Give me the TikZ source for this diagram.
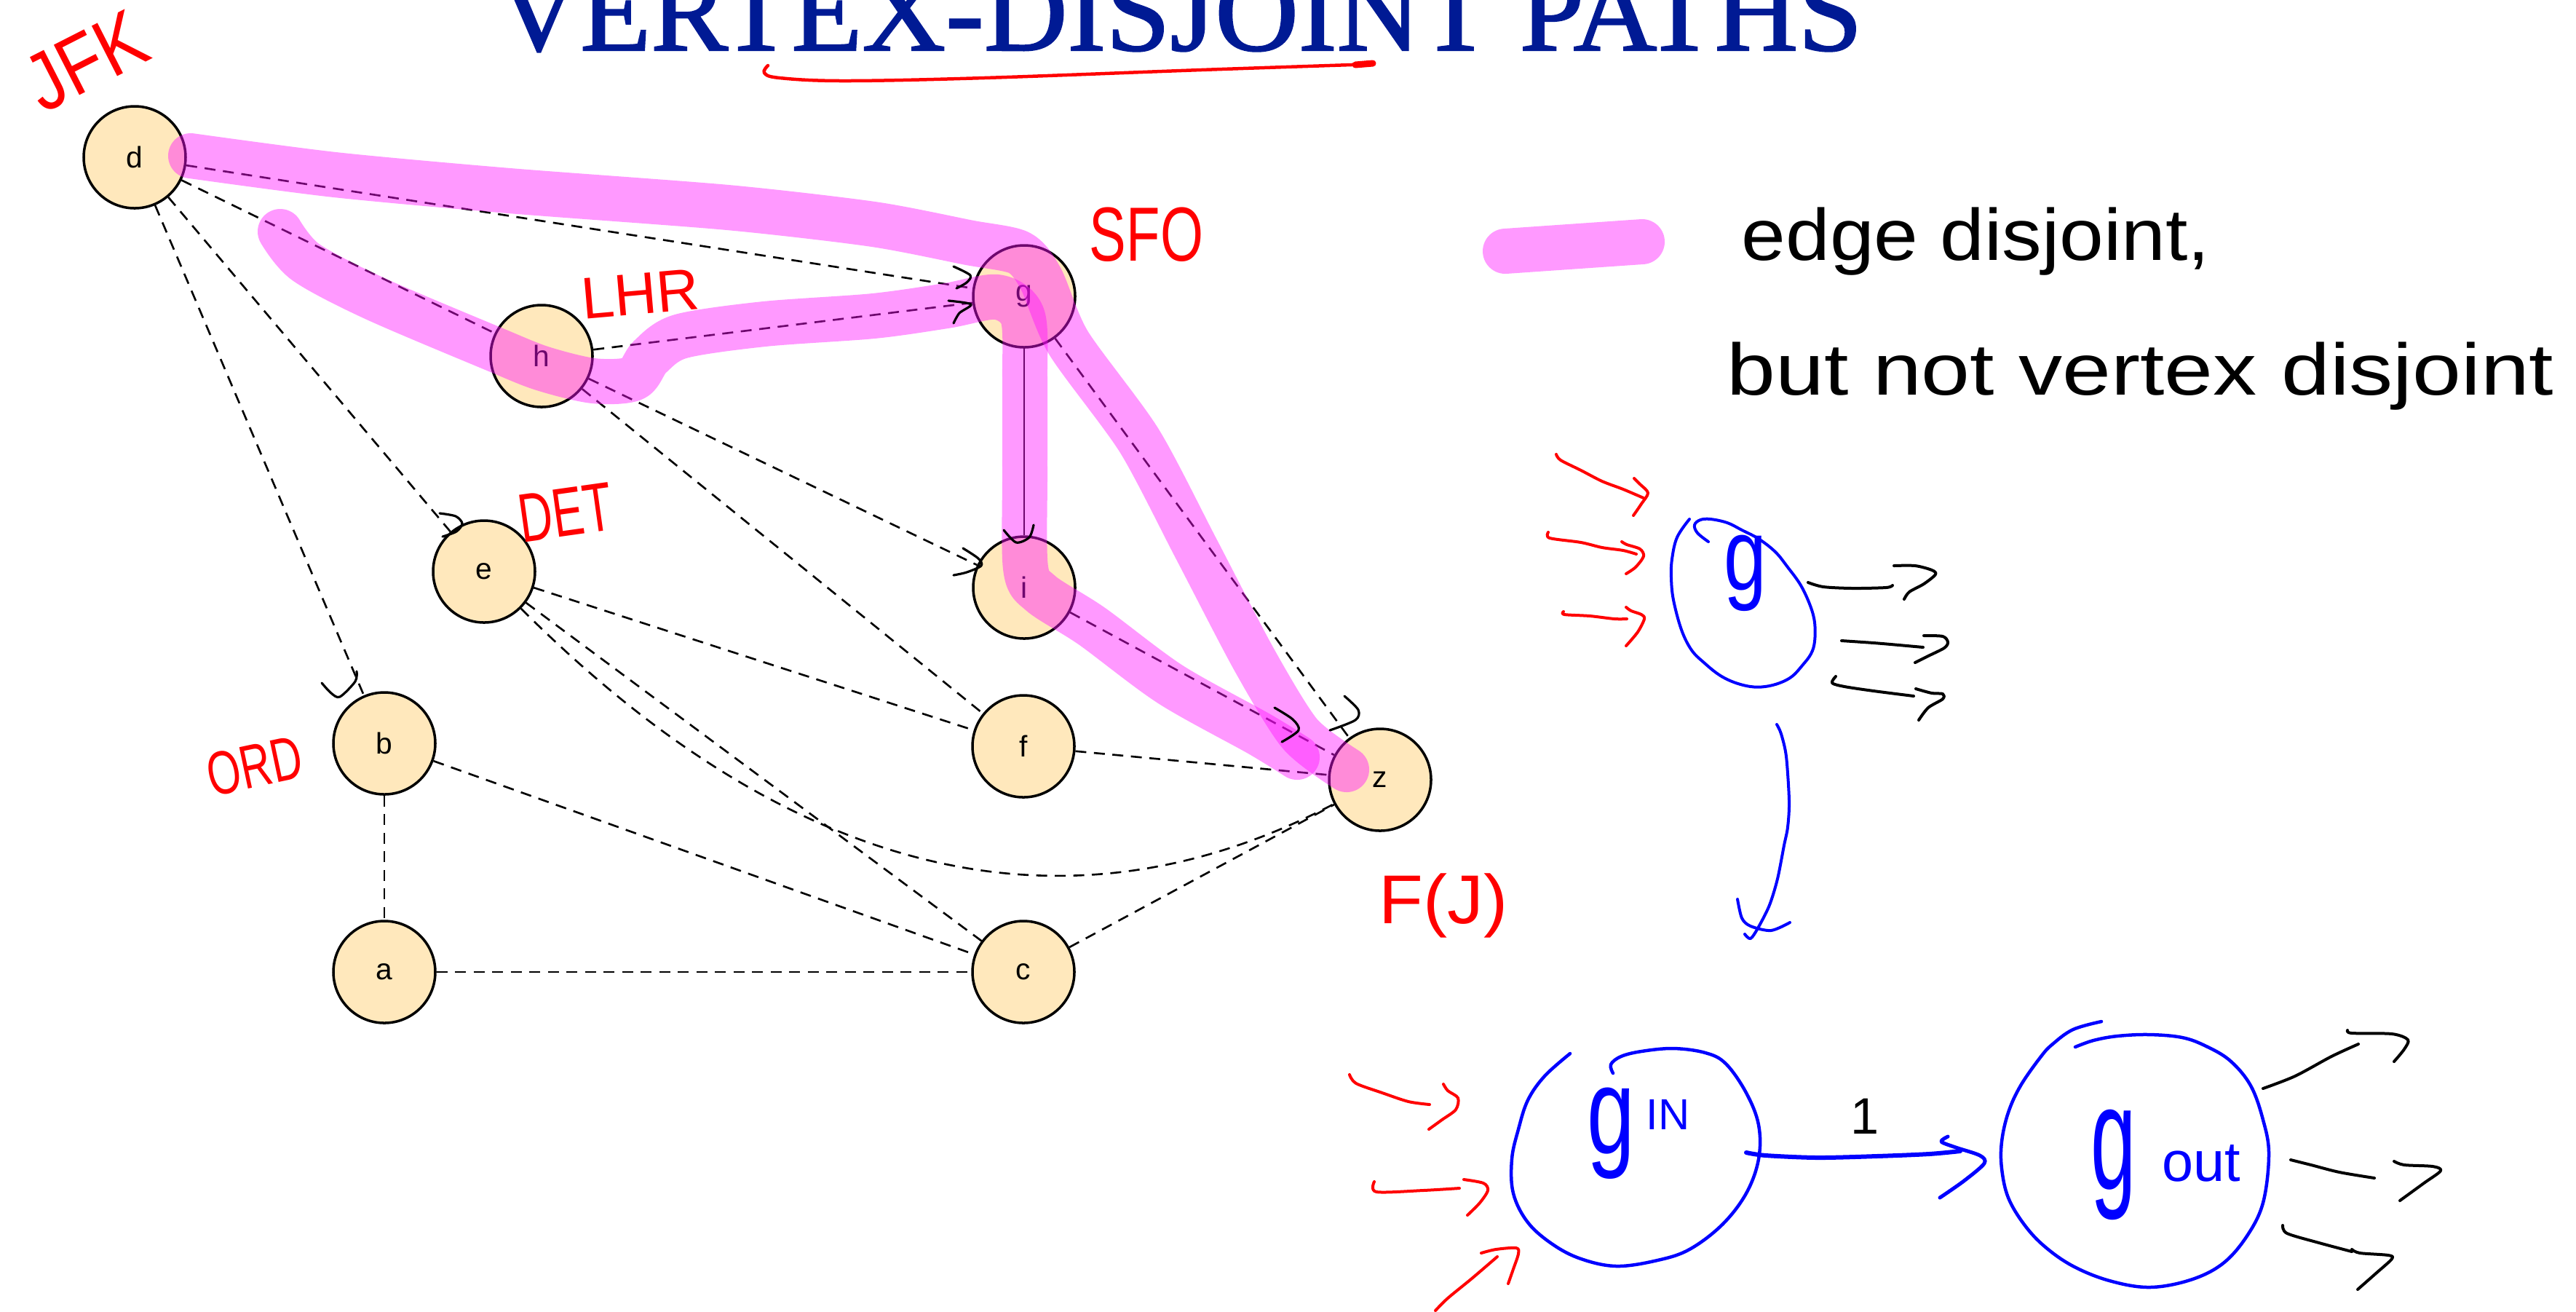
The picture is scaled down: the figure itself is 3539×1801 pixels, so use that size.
\documentclass[tikz,border=0pt]{standalone}
\usepackage{fontspec}
\setmainfont{Liberation Sans}
\newfontfamily\titlefont[FakeBold=1.5]{Liberation Serif}
\usepackage{graphicx}
\definecolor{peach}{RGB}{255,232,188}
\definecolor{hlpink}{RGB}{255,18,255}
\definecolor{titleblue}{RGB}{0,26,148}
\definecolor{inkred}{RGB}{255,0,0}
\definecolor{inkblue}{RGB}{0,0,255}
\newcommand{\myfs}[1]{\fontsize{#1}{#1}\selectfont}
\begin{document}
\begin{tikzpicture}[x=0.1mm,y=-0.1mm,
  vtx/.style={circle, draw=black, line width=1pt, fill=peach, minimum size=14mm, inner sep=0pt, font=\myfs{11.6pt}},
  gedge/.style={draw=black, line width=0.75pt, dash pattern=on 1.5mm off 1.05mm},
  sedge/.style={draw=black, line width=0.6pt},
  hl/.style={draw=hlpink, draw opacity=0.43, line width=6.2mm, line cap=round, line join=round},
  ink/.style={line width=0.32mm, line cap=round, line join=round},
  redlab/.style={text=inkred, inner sep=0pt},
  handtext/.style={anchor=base west, inner sep=0pt, font=\myfs{28.5pt}}]
\useasboundingbox (0,0) rectangle (3539,1801);

% title
\node[anchor=base west, inner sep=0pt, text=titleblue, font=\titlefont\myfs{44.4pt}] (title) at (682,69) {\scalebox{1.017}[1]{VERTEX-DISJOINT PATHS}};
\draw[ink, inkred, line width=0.45mm] plot[smooth, tension=0.6] coordinates {(1055,90) (1050,100) (1071,107) (1160,111) (1352,107) (1650,96) (1887,88)};
\draw[inkred, line width=0.9mm, line cap=round] (1862,89) -- (1886,87);

% vertices
\node[vtx] (d) at (185,216) {d};
\node[vtx] (h) at (744,489) {h};
\node[vtx] (g) at (1407,407) {g};
\node[vtx] (e) at (665,785) {e};
\node[vtx] (i) at (1407,807) {i};
\node[vtx] (b) at (528,1021) {b};
\node[vtx] (f) at (1406,1025) {f};
\node[vtx] (z) at (1896,1071) {z};
\node[vtx] (a) at (528,1335) {a};
\node[vtx] (c) at (1406,1335) {c};

% edges
\draw[gedge] (d) -- (g);
\draw[gedge] (d) -- (h);
\draw[gedge] (d) -- (e);
\draw[gedge] (d) -- (b);
\draw[gedge] (h) -- (g);
\draw[gedge] (h) -- (i);
\draw[gedge] (h) -- (f);
\draw[sedge] (g) -- (i);
\draw[gedge] (g) -- (z);
\draw[gedge] (i) -- (z);
\draw[gedge] (e) -- (f);
\draw[gedge] (e) -- (c);
\draw[gedge] (e) .. controls (1040,1160) and (1420,1320) .. (z);
\draw[gedge] (b) -- (c);
\draw[gedge] (b) -- (a);
\draw[gedge] (a) -- (c);
\draw[gedge] (f) -- (z);
\draw[gedge] (c) -- (z);

% highlight strokes
\draw[hl] plot[smooth, tension=0.45] coordinates {(262,214) (460,240) (700,262) (1000,285) (1200,308) (1330,333) (1400,347) (1430,383) (1468,471) (1565,605) (1643,753) (1723,906) (1786,1008) (1850,1057)};
\draw[hl] plot[smooth, tension=0.5] coordinates {(385,318) (420,360) (515,410) (680,480) (745,506) (815,523) (870,520) (893,490) (935,462) (1050,445) (1200,434) (1300,420) (1370,408) (1405,435) (1408,520) (1408,650) (1409,780) (1430,815) (1500,860) (1608,940) (1730,1008) (1782,1040)};

% hand-drawn arrowheads on the graph
\draw[ink] plot[smooth] coordinates {(1310,366) (1333,378) (1328,388) (1314,396)};
\draw[ink] plot[smooth] coordinates {(1303,413) (1334,418) (1318,430) (1310,444)};
\draw[ink] plot[smooth] coordinates {(1323,753) (1344,767) (1348,777) (1328,786) (1310,790)};
\draw[ink] plot[smooth] coordinates {(1379,728) (1396,745) (1414,738) (1420,721)};
\draw[ink] plot[smooth] coordinates {(1751,972) (1776,988) (1784,1003) (1761,1019)};
\draw[ink] plot[smooth] coordinates {(1847,956) (1866,975) (1862,989) (1827,1003)};
\draw[ink] plot[smooth] coordinates {(604,705) (626,709) (635,719) (627,730) (608,737)};
\draw[ink] plot[smooth] coordinates {(490,922) (488,936) (467,957) (455,952) (442,938)};

% red airport labels
\node[redlab, rotate=27, font=\myfs{32pt}] (lJFK) at (118,84) {\scalebox{0.85}[1]{JFK}};
\node[redlab, rotate=5, font=\myfs{23pt}] (lLHR) at (880,404) {LHR};
\node[redlab, font=\myfs{30pt}] (lSFO) at (1575,322) {\scalebox{0.72}[1]{SFO}};
\node[redlab, rotate=8, font=\myfs{27pt}] (lDET) at (777,704) {\scalebox{0.68}[1]{DET}};
\node[redlab, rotate=12, font=\myfs{24pt}] (lORD) at (350,1052) {\scalebox{0.7}[1]{ORD}};
\node[redlab, font=\myfs{27pt}] (lFJ) at (1983,1244) {\scalebox{1.05}[1]{F(J)}};

% legend
\draw[hl] (2068,345) -- (2256,332);
\node[handtext] (t1) at (2392,357) {\scalebox{1.09}[1]{edge disjoint,}};
\node[handtext] (t2) at (2372,542) {\scalebox{1.2}[1]{but not vertex disjoint}};

% vertex g sketch
\draw[ink, inkblue, line width=0.4mm] plot[smooth, tension=0.6] coordinates {(2321,713) (2304,738) (2297,768) (2296,794) (2299,824) (2310,865) (2324,893) (2342,911) (2362,927) (2382,937) (2405,943) (2425,943) (2445,938) (2462,929) (2476,914) (2488,898) (2493,881) (2493,855) (2487,832) (2474,804) (2456,779) (2439,758) (2416,740) (2393,728) (2373,718) (2350,713) (2336,714) (2328,721) (2332,732) (2347,744)};
\node[anchor=base, inner sep=0pt, text=inkblue, font=\myfs{40pt}] (gg) at (2398,810) {\scalebox{0.75}[1]{g}};
\begin{scope}[ink, inkred, line width=0.4mm]
\draw plot[smooth] coordinates {(2138,624) (2144,632) (2172,646) (2201,661) (2230,672) (2258,684)};
\draw plot[smooth] coordinates {(2245,657) (2253,665) (2264,677) (2255,692) (2244,708)};
\draw plot[smooth] coordinates {(2127,731) (2129,739) (2172,745) (2201,752) (2230,756) (2248,761)};
\draw plot[smooth] coordinates {(2228,744) (2235,748) (2253,754) (2258,764) (2247,779) (2234,788)};
\draw plot[smooth] coordinates {(2148,840) (2149,844) (2184,846) (2218,850) (2235,850)};
\draw plot[smooth] coordinates {(2234,834) (2241,839) (2255,844) (2259,850) (2250,868) (2234,887)};
\end{scope}
\begin{scope}[ink, line width=0.4mm]
\draw plot[smooth] coordinates {(2484,800) (2505,806) (2545,808) (2591,807) (2600,804)};
\draw plot[smooth] coordinates {(2602,777) (2631,777) (2654,783) (2659,789) (2643,802) (2623,813) (2616,823)};
\draw plot[smooth] coordinates {(2530,880) (2574,883) (2609,886) (2642,889)};
\draw plot[smooth] coordinates {(2643,873) (2669,874) (2676,882) (2671,890) (2649,901) (2631,910)};
\draw plot[smooth] coordinates {(2522,929) (2517,938) (2534,943) (2574,949) (2629,956)};
\draw plot[smooth] coordinates {(2632,946) (2654,952) (2669,953) (2669,960) (2649,972) (2636,989)};
\end{scope}
\begin{scope}[ink, inkblue, line width=0.4mm]
\draw plot[smooth] coordinates {(2441,995) (2447,1008) (2454,1039) (2458,1100) (2456,1136) (2451,1161) (2442,1207) (2431,1243) (2416,1273) (2405,1289) (2397,1283)};
\draw plot[smooth] coordinates {(2387,1235) (2393,1261) (2405,1272) (2433,1278) (2459,1267)};
\end{scope}

% split vertex g_in -> g_out
\begin{scope}[ink, inkblue, line width=0.45mm]
\draw plot[smooth, tension=0.6] coordinates {(2157,1447) (2122,1478) (2099,1511) (2086,1551) (2077,1592) (2079,1639) (2099,1679) (2133,1709) (2172,1729) (2221,1739) (2277,1731) (2321,1716) (2366,1682) (2399,1639) (2416,1592) (2416,1545) (2399,1501) (2371,1461) (2343,1446) (2299,1440) (2255,1444) (2227,1451) (2213,1462) (2216,1474)};
\draw plot[smooth, tension=0.6] coordinates {(2887,1403) (2848,1414) (2820,1434) (2804,1451) (2776,1491) (2759,1528) (2750,1568) (2750,1605) (2759,1645) (2781,1682) (2809,1712) (2848,1739) (2898,1759) (2953,1768) (3009,1758) (3053,1736) (3086,1699) (3109,1652) (3117,1585) (3109,1538) (3092,1491) (3064,1457) (3031,1437) (2998,1425) (2953,1421) (2909,1423) (2876,1429) (2851,1438)};
\draw[line width=0.6mm] plot[smooth] coordinates {(2399,1583) (2426,1587) (2497,1590) (2578,1588) (2650,1585) (2693,1581)};
\draw[line width=0.5mm] plot[smooth] coordinates {(2676,1561) (2667,1568) (2687,1576) (2720,1587) (2726,1598) (2698,1622) (2665,1645)};
\end{scope}
\node[anchor=base west, inner sep=0pt, text=inkblue] (gin) at (2180,1584) {\scalebox{0.7}[1]{\myfs{48pt}g}\hspace{1.5mm}\raisebox{3.3mm}{\myfs{17pt}IN}};
\node[anchor=base west, inner sep=0pt, text=inkblue] (gout) at (2872,1633) {\scalebox{0.55}[1]{\myfs{58pt}g}\hspace{3.5mm}\raisebox{1.1mm}{\myfs{22pt}out}};
\node[inner sep=0pt, font=\myfs{20pt}] (one) at (2562,1533) {1};
\begin{scope}[ink, inkred, line width=0.4mm]
\draw plot[smooth] coordinates {(1854,1476) (1863,1488) (1899,1501) (1935,1513) (1964,1517)};
\draw plot[smooth] coordinates {(1983,1489) (1989,1498) (2003,1508) (2000,1524) (1981,1538) (1963,1551)};
\draw plot[smooth] coordinates {(1888,1623) (1891,1637) (1955,1635) (2005,1632)};
\draw plot[smooth] coordinates {(2011,1620) (2038,1625) (2044,1635) (2033,1652) (2016,1669)};
\draw plot[smooth] coordinates {(1972,1800) (1989,1783) (2022,1756) (2057,1726)};
\draw plot[smooth] coordinates {(2035,1721) (2055,1716) (2083,1714) (2086,1722) (2079,1743) (2072,1763)};
\end{scope}
\begin{scope}[ink, line width=0.4mm]
\draw plot[smooth] coordinates {(3109,1495) (3153,1478) (3203,1451) (3240,1434)};
\draw plot[smooth] coordinates {(3225,1415) (3231,1419) (3286,1420) (3308,1428) (3303,1441) (3289,1458)};
\draw plot[smooth] coordinates {(3147,1593) (3175,1600) (3214,1610) (3262,1618)};
\draw plot[smooth] coordinates {(3289,1595) (3303,1600) (3342,1602) (3353,1608) (3330,1625) (3297,1649)};
\draw plot[smooth] coordinates {(3136,1683) (3142,1694) (3186,1707) (3231,1719)};
\draw plot[smooth] coordinates {(3231,1716) (3242,1721) (3281,1724) (3286,1729) (3264,1749) (3239,1771)};
\end{scope}
\end{tikzpicture}
\end{document}
